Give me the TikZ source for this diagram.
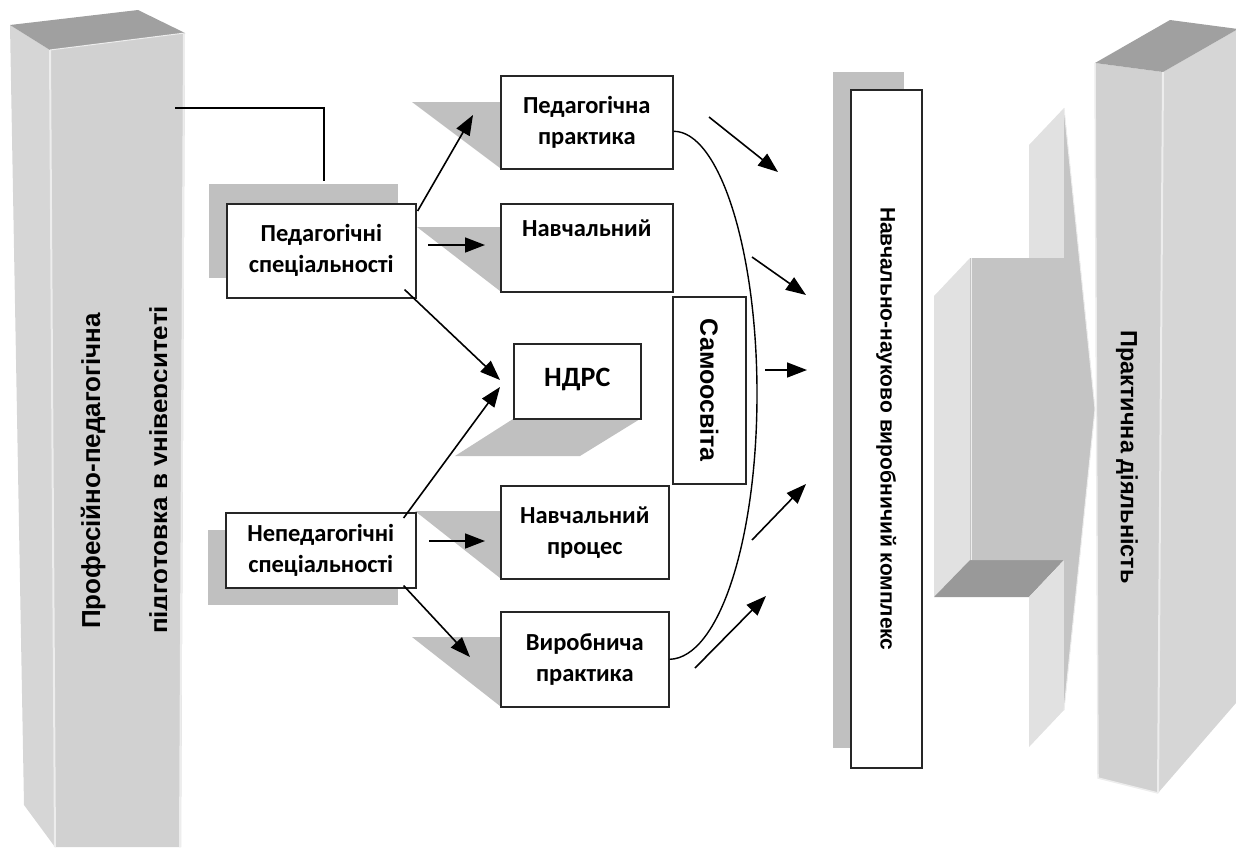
\documentclass[tikz,border=0pt]{standalone}
\usepackage{fontspec}
\setmainfont{Carlito}
\newfontfamily\arialf{Liberation Sans}
\usetikzlibrary{arrows.meta,calc}

\definecolor{shadowgray}{HTML}{C0C0C0}
\definecolor{pillarfront}{HTML}{D1D1D1}
\definecolor{pillarside}{HTML}{D6D6D6}
\definecolor{pillartop}{HTML}{A0A0A0}
\definecolor{edgehi}{HTML}{EDEDED}
\definecolor{arrlight}{HTML}{E1E1E1}
\definecolor{arrfront}{HTML}{C4C4C4}
\definecolor{arrbottom}{HTML}{999999}

\begin{document}
\begin{tikzpicture}[x=1pt,y=-1pt,
  box/.style={draw=black!85,line width=1.6pt,fill=white,inner sep=0pt,
    align=center,anchor=north west,font=\fontsize{24.5}{31}\selectfont\bfseries},
  arr/.style={line width=1.6pt,-{Triangle[length=20pt,width=15pt]}},
  vtext/.style={font=\arialf\bfseries\fontsize{26}{26}\selectfont}]

\useasboundingbox (0,0) rectangle (1236,847);

% ---------- left pillar ----------
\fill[pillarside] (10,25) -- (50,50) -- (55,847) -- (24,805) -- cycle;
\fill[pillarfront] (50,50) -- (185,33) -- (181,847) -- (55,847) -- cycle;
\fill[pillartop] (10,25) -- (138,10) -- (185,33) -- (50,50) -- cycle;
\draw[edgehi,line width=2pt] (50,50) -- (55,847);
\draw[edgehi,line width=2pt] (184,34) -- (180,847);
\draw[edgehi,line width=1pt] (50,50) -- (185,33);

\node[vtext,rotate=90,anchor=base] (prof) at (100,471) {Професійно-педагогічна};
\begin{scope}
  \clip (130,250) rectangle (166,700);
  \node[vtext,rotate=90,anchor=base] (univ) at (168,470) {підготовка в університеті};
\end{scope}

% ---------- shadows ----------
\fill[shadowgray] (209,184) rectangle (398,278);
\fill[shadowgray] (208,530) rectangle (398,605);
\fill[shadowgray] (412,102) -- (500,102) -- (500,168) -- cycle;
\fill[shadowgray] (417,227) -- (500,227) -- (500,291) -- cycle;
\fill[shadowgray] (415,511) -- (500,511) -- (500,578) -- cycle;
\fill[shadowgray] (412,637) -- (500,637) -- (500,706) -- cycle;
\fill[shadowgray] (513,419) -- (640,419) -- (580,456) -- (455,456) -- cycle;
\fill[shadowgray] (833,72) rectangle (904,748);

% ---------- boxes ----------
\node[box,minimum width=189pt,minimum height=94pt] (ps) at (226,203) {Педагогічні\\спеціальності};
\node[box,minimum width=190pt,minimum height=75pt] (nps) at (225,512) {Непедагогічні\\спеціальності};
\node[box,minimum width=172pt,minimum height=93pt] (pp) at (500,75) {Педагогічна\\практика};
\node[box,minimum width=172pt,minimum height=88pt] (nav) at (500,203) {Навчальний\\\strut};
\node[box,minimum width=127pt,minimum height=75pt,font=\fontsize{28}{30}\selectfont\bfseries] (ndrs) at (513,343) {\raisebox{7pt}{НДРС}};
\node[box,minimum width=168pt,minimum height=93pt] (np) at (500,485) {Навчальний\\процес};
\node[box,minimum width=168pt,minimum height=95pt] (vp) at (500,611) {Виробнича\\практика};
\node[box,minimum width=73pt,minimum height=187pt] (samo) at (672,296) {};
\node[vtext,rotate=-90,font=\arialf\bfseries\fontsize{25}{25}\selectfont] (samot) at (samo.center) {Самоосвіта};
\node[box,minimum width=71pt,minimum height=678pt] (nnvk) at (850,89) {};
\node[rotate=-90,font=\arialf\bfseries\fontsize{21}{21}\selectfont] (nnvkt) at (nnvk.center) {Навчально-науково виробничий комплекс};

% ---------- link from the pillar ----------
\coordinate (pillarout) at (175,108);
\coordinate (psshadowtop) at (324,181);
\draw[line width=1.5pt] (pillarout) -| (psshadowtop);

% ---------- arrows from the specialities ----------
\coordinate (tipPP) at (473,115);
\coordinate (navfrom) at (428,245);
\coordinate (navto) at (485,245);
\coordinate (tipN1) at (500,380);
\coordinate (tipN2) at (500,387);
\coordinate (npfrom) at (429,541);
\coordinate (npto) at (485,541);
\coordinate (tipVP) at (470,657);
\draw[arr] ($(ps.north east)+(1,8)$) -- (tipPP);
\draw[arr] (navfrom) -- (navto);
\draw[arr] ($(ps.south east)+(-12,-9)$) -- (tipN1);
\draw[arr] ($(nps.north east)+(-13,6)$) -- (tipN2);
\draw[arr] (npfrom) -- (npto);
\draw[arr] ($(nps.south east)+(-13,-3)$) -- (tipVP);

% ---------- enclosing curve ----------
\draw[line width=1.4pt] ($(pp.east)+(0,9)$) .. controls (719,131) and (757,249) .. (757,394)
  .. controls (757,540) and (719,658) .. (vp.east);

% ---------- arrows into the complex ----------
\coordinate (r1a) at (709,117); \coordinate (r1b) at (778,172);
\coordinate (r2a) at (752,257); \coordinate (r2b) at (806,295);
\coordinate (r3a) at (765,370); \coordinate (r3b) at (807,370);
\coordinate (r4a) at (752,540); \coordinate (r4b) at (806,484);
\coordinate (r5a) at (695,668); \coordinate (r5b) at (766,596);
\draw[arr] (r1a) -- (r1b);
\draw[arr] (r2a) -- (r2b);
\draw[arr] (r3a) -- (r3b);
\draw[arr] (r4a) -- (r4b);
\draw[arr] (r5a) -- (r5b);

% ---------- right pillar ----------
\fill[pillarside] (1163,72) -- (1238,29) -- (1236,703) -- (1158,793) -- cycle;
\fill[pillarfront] (1095,63) -- (1163,72) -- (1158,793) -- (1098,778) -- cycle;
\fill[pillartop] (1095,63) -- (1170,20) -- (1238,29) -- (1163,72) -- cycle;
\draw[edgehi,line width=2pt] (1163,72) -- (1158,793);
\draw[edgehi,line width=1.5pt] (1095,63) -- (1098,778) -- (1158,793);
\node[rotate=-90,font=\arialf\bfseries\fontsize{23.5}{23.5}\selectfont] (prakt) at (1127,457) {Практична діяльність};

% ---------- block arrow ----------
\fill[arrlight] (1064,108) -- (1029,145) -- (1029,258) -- (1064,258) -- cycle;
\fill[arrlight] (970,258) -- (934,296) -- (934,597) -- (970,560) -- cycle;
\fill[arrbottom] (970,560) -- (1064,560) -- (1029,597) -- (934,597) -- cycle;
\fill[arrlight] (1064,560) -- (1064,710) -- (1029,747) -- (1029,597) -- cycle;
\fill[arrfront] (970,258) -- (1064,258) -- (1064,108) -- (1095,409) -- (1064,710)
  -- (1064,560) -- (970,560) -- cycle;
\draw[edgehi,line width=1pt] (1064,108) -- (1095,409) -- (1064,710);
\draw[edgehi,line width=1pt] (971,258) -- (971,560);

\end{tikzpicture}
\end{document}
